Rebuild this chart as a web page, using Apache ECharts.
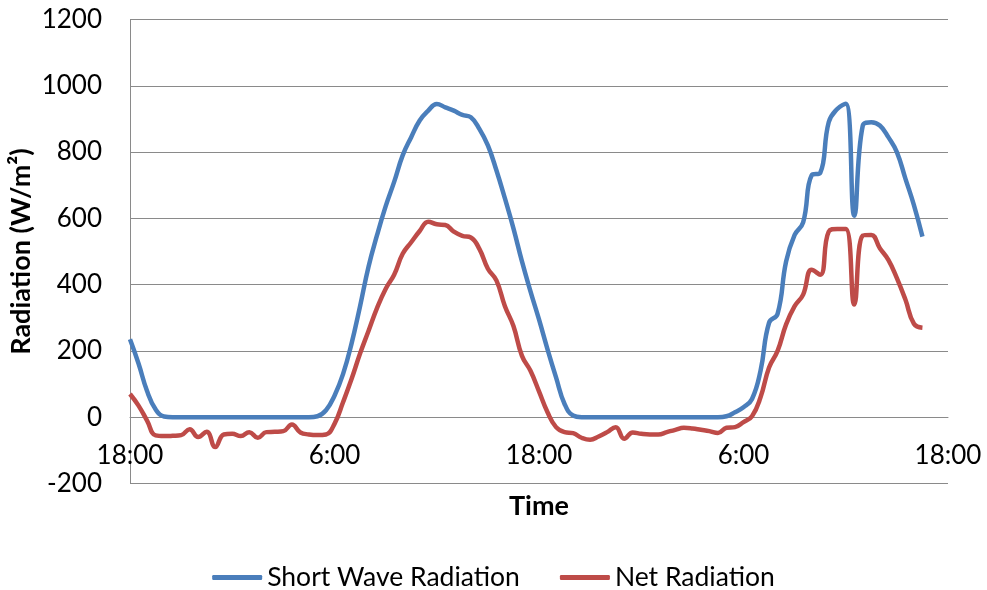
<!DOCTYPE html>
<html>
<head>
<meta charset="utf-8">
<title>Radiation</title>
<script src="https://cdn.jsdelivr.net/npm/echarts@6/dist/echarts.min.js"></script>
<style>
  html, body { margin: 0; padding: 0; background: #ffffff; }
  #chart { width: 987px; height: 590px; }
</style>
</head>
<body>
<div id="chart"></div>
<script>
// Half-hourly timestamps from 18:00 through 18:00 two days later
const timeLabels = [];
for (let i = 0; i <= 96; i++) {
  const mins = (18 * 60 + i * 30) % (24 * 60);
  const h = Math.floor(mins / 60);
  const m = mins % 60;
  timeLabels.push(h + ':' + (m < 10 ? '0' + m : m));
}

// Short wave radiation (W/m²), one value per half hour
const shortWave = [
  235, 162, 79, 24, 2, 0, 0, 0, 0, 0,
  0, 0, 0, 0, 0, 0, 0, 0, 0, 0,
  0, 0, 3, 21, 65, 130, 222, 335, 455, 550,
  636, 710, 790, 845, 895, 925, 945, 935, 925, 912,
  905, 870, 820, 745, 660, 570, 470, 380, 295, 205,
  120, 40, 5, 0, 0, 0, 0, 0, 0, 0,
  0, 0, 0, 0, 0, 0, 0, 0, 0, 0,
  3, 15, 30, 55, 140, 285, 312, 470, 550, 588,
  730, 737, 890, 930, 946, 608, 880, 890, 880, 845,
  800, 720, 640, 545, null, null, null
];

// Net radiation (W/m²), one value per half hour
const netRad = [
  70, 35, -10, -55, -57, -56, -54, -36, -60, -44,
  -90, -52, -50, -57, -45, -62, -45, -44, -42, -22,
  -46, -52, -54, -52, -20, 45, 115, 192, 261, 330,
  387, 430, 493, 528, 562, 590, 582, 580, 560, 547,
  542, 508, 448, 413, 335, 275, 185, 140, 78, 15,
  -30, -45, -48, -62, -68, -58, -45, -30, -65, -46,
  -50, -52, -52, -45, -38, -32, -34, -38, -42, -48,
  -32, -30, -15, 3, 60, 150, 200, 280, 335, 370,
  445, 430, 560, 568, 568, 340, 548, 550, 510, 475,
  420, 355, 282, 270, null, null, null
];

const yTicks = { min: -200, max: 1200, interval: 200 };

const FONT = 'Lato, "Liberation Sans", sans-serif';
const GRID_COLOR = '#8a8a8a';
const BLUE = '#4A7EBB';
const RED = '#BE4B48';

const GRID = { left: 130, right: 39, top: 19.5, bottom: 106.5 };
const plotHeight = 590 - GRID.top - GRID.bottom;
// the time axis crosses the value axis at 0
const zeroShift = plotHeight * (0 - yTicks.min) / (yTicks.max - yTicks.min);

const chart = echarts.init(document.getElementById('chart'), null, { renderer: 'canvas' });

chart.setOption({
  animation: false,
  backgroundColor: '#ffffff',
  textStyle: { fontFamily: FONT, color: '#000000' },
  grid: {
    left: GRID.left, right: GRID.right, top: GRID.top, bottom: GRID.bottom,
    containLabel: false,
    outerBoundsMode: 'none'
  },
  legend: {
    top: 559,
    left: 'center',
    icon: 'roundRect',
    itemWidth: 50,
    itemHeight: 5,
    itemGap: 40,
    textStyle: { fontFamily: FONT, fontSize: 26.5, color: '#000000' },
    data: ['Short Wave Radiation', 'Net Radiation']
  },
  xAxis: {
    type: 'category',
    data: timeLabels,
    boundaryGap: false,
    offset: -zeroShift,
    name: 'Time',
    nameLocation: 'middle',
    nameGap: 76,
    nameMoveOverlap: false,
    nameTextStyle: { fontFamily: FONT, fontSize: 27, fontWeight: 'bold', color: '#000000' },
    axisLine: { onZero: false, lineStyle: { color: GRID_COLOR, width: 1 } },
    axisTick: { show: false },
    axisLabel: {
      interval: 23,
      margin: 25,
      fontFamily: FONT,
      fontSize: 26,
      color: '#000000'
    },
    splitLine: { show: false }
  },
  yAxis: {
    type: 'value',
    min: yTicks.min,
    max: yTicks.max,
    interval: yTicks.interval,
    name: 'Radiation (W/m²)',
    nameLocation: 'middle',
    nameRotate: 90,
    nameGap: 95,
    nameMoveOverlap: false,
    nameTextStyle: { fontFamily: FONT, fontSize: 27, fontWeight: 'bold', color: '#000000' },
    axisLine: { show: true, lineStyle: { color: GRID_COLOR, width: 1 } },
    axisTick: { show: false },
    axisLabel: {
      margin: 28,
      fontFamily: FONT,
      fontSize: 26,
      color: '#000000',
      formatter: (v) => String(v)
    },
    splitLine: { show: true, lineStyle: { color: GRID_COLOR, width: 1 } }
  },
  series: [
    {
      name: 'Short Wave Radiation',
      type: 'line',
      data: shortWave,
      symbol: 'none',
      smooth: 0.45,
      connectNulls: false,
      lineStyle: { color: BLUE, width: 4.5 },
      itemStyle: { color: BLUE }
    },
    {
      name: 'Net Radiation',
      type: 'line',
      data: netRad,
      symbol: 'none',
      smooth: 0.45,
      connectNulls: false,
      lineStyle: { color: RED, width: 4.5 },
      itemStyle: { color: RED }
    }
  ]
});
</script>
</body>
</html>
